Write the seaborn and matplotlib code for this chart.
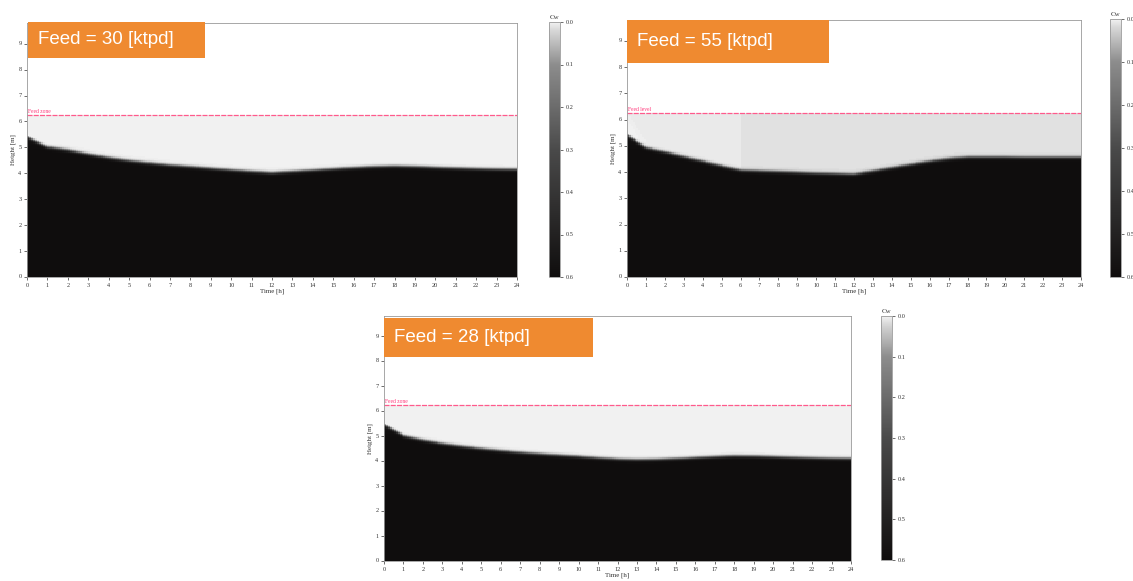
import numpy as np
import pandas as pd
import matplotlib
matplotlib.use("Agg")
import matplotlib.pyplot as plt
from matplotlib.colors import LinearSegmentedColormap
from matplotlib.patches import Rectangle
import seaborn as sns

# Hourly time axis
time_h = list(range(25))

# Sludge-bed interface height [m] read hourly for each feed rate
bed_feed30 = [5.40, 5.00, 4.88, 4.72, 4.58, 4.47, 4.38, 4.30, 4.24, 4.17, 4.11, 4.05, 4.00,
              4.05, 4.10, 4.15, 4.20, 4.24, 4.26, 4.24, 4.21, 4.18, 4.16, 4.14, 4.13]
bed_feed55 = [5.40, 4.92, 4.75, 4.57, 4.40, 4.22, 4.05, 4.02, 4.00, 3.97, 3.94, 3.92, 3.90,
              4.02, 4.15, 4.28, 4.40, 4.50, 4.56, 4.56, 4.56, 4.55, 4.55, 4.55, 4.55]
bed_feed28 = [5.45, 5.00, 4.82, 4.68, 4.57, 4.48, 4.40, 4.33, 4.27, 4.22, 4.17, 4.11, 4.06,
              4.04, 4.05, 4.08, 4.12, 4.16, 4.19, 4.18, 4.16, 4.13, 4.11, 4.09, 4.08]

# Clear-water solids concentration above the bed (hourly, held within each hour)
clear_feed30 = [0.0020] * 16 + [0.0012] * 9
clear_feed55 = [0.0058] * 6 + [0.0135] * 19
clear_feed28 = [0.0015] * 25

feed_titles = ["Feed = 30 [ktpd]", "Feed = 55 [ktpd]", "Feed = 28 [ktpd]"]
feed_zone_labels = ["Feed zone", "Feed level", "Feed zone"]
feed_level_m = 6.25
bed_conc = 0.6
height_ticks = list(range(10))
cbar_ticks = [0.0, 0.1, 0.2, 0.3, 0.4, 0.5, 0.6]

# Grid resolution for the concentration field
DT = 0.1
DH = 0.05
H_MAX = 9.8

sns.set_theme(style="white")
plt.rcParams["font.family"] = ["Liberation Serif", "DejaVu Serif"]

cmap = LinearSegmentedColormap.from_list(
    "cw",
    [(0.0, "#f1f1f1"), (0.03, "#d8d8d8"), (1 / 6, "#8c8c8c"), (0.5, "#4a4a4a"), (1.0, "#0f0d0d")],
)

W, H = 1133, 581
fig = plt.figure(figsize=(W / 100, H / 100), dpi=100)


def px_axes(x0, y0, x1, y1):
    return fig.add_axes([x0 / W, 1 - y1 / H, (x1 - x0) / W, (y1 - y0) / H])


def field(bed, clear):
    t = np.arange(0, 24, DT) + DT / 2
    h = np.arange(0, H_MAX, DH) + DH / 2
    b = np.interp(t, time_h, bed)
    c = np.asarray(clear)[np.floor(t).astype(int)]
    hh, tt = np.meshgrid(h, t, indexing="ij")
    bb = np.broadcast_to(b, hh.shape)
    cc = np.broadcast_to(c, hh.shape)
    frac = 0.5 * (1 - np.tanh((hh - bb) / 0.06))
    z = cc + (bed_conc - cc) * frac
    # lighter wedge at start-up near the top of the bed
    z = z - 0.04 * np.exp(-tt / 0.4) * np.exp(-np.abs(hh - bb) / 0.25)
    z = np.clip(z, 0, bed_conc)
    z[hh > feed_level_m] = np.nan
    return pd.DataFrame(z)


panels = [
    (bed_feed30, clear_feed30, (27, 23, 517, 277), (549, 22, 560, 277), (28, 22, 205, 58)),
    (bed_feed55, clear_feed55, (627, 20, 1081, 277), (1110, 19, 1121, 277), (627, 20, 829, 63)),
    (bed_feed28, clear_feed28, (384, 316, 851, 561), (881, 316, 892, 560), (384, 318, 593, 357)),
]

for i, (bed, clear, ax_px, cb_px, box_px) in enumerate(panels):
    ax = px_axes(*ax_px)
    cax = px_axes(*cb_px)
    df = field(bed, clear)
    sns.heatmap(df, ax=ax, cbar_ax=cax, cmap=cmap, vmin=0, vmax=bed_conc,
                linewidths=0, rasterized=True)
    ax.set_facecolor("white")
    nrows, ncols = df.shape
    ax.set_ylim(0, H_MAX / DH)
    ax.set_xlim(0, ncols)
    ax.set_xticks([t / DT for t in time_h])
    ax.set_xticklabels([str(t) for t in time_h], rotation=0)
    ax.set_yticks([v / DH for v in height_ticks])
    ax.set_yticklabels([str(v) for v in height_ticks], rotation=0)
    ax.tick_params(axis="both", length=2, width=0.5, labelsize=4.5, colors="#333333", pad=2,
                   bottom=True, left=True)
    for s in ax.spines.values():
        s.set_visible(True)
        s.set_linewidth(0.6)
        s.set_color("#999999")
    ax.set_xlabel("Time [h]", fontsize=5, color="#333333", labelpad=1)
    ax.set_ylabel("Height [m]", fontsize=5, color="#333333", labelpad=2)

    # feed level marker
    ax.axhline(feed_level_m / DH, color="#ff5a8c", lw=0.9, ls=(0, (4, 1)))
    ax.text(0.4, feed_level_m / DH + 0.6, feed_zone_labels[i], fontsize=4,
            color="#ff3377", va="bottom", ha="left")

    # colour bar: 0 at the top, bed concentration at the bottom
    cbar = ax.collections[0].colorbar
    cbar.set_ticks(cbar_ticks)
    cbar.set_ticklabels([f"{v:.1f}" for v in cbar_ticks])
    cax.invert_yaxis()
    cax.tick_params(labelsize=4.5, length=2, width=0.5, colors="#333333", pad=2)
    cbar.outline.set_visible(True)
    cbar.outline.set_linewidth(0.6)
    cbar.outline.set_edgecolor("#999999")
    cax.set_title("Cw", fontsize=5, color="#333333", pad=2)

    # orange feed-rate banner
    x0, y0, x1, y1 = box_px
    fig.patches.append(Rectangle((x0 / W, 1 - y1 / H), (x1 - x0) / W, (y1 - y0) / H,
                                 transform=fig.transFigure, facecolor="#ef8a30",
                                 edgecolor="none", zorder=5))
    fig.text((x0 + 10) / W, 1 - ((y0 + y1) / 2) / H, feed_titles[i], fontsize=13.5,
             color="white", va="center", ha="left", family=["Liberation Sans", "DejaVu Sans"],
             zorder=6)

fig.savefig("out.png", dpi=100, facecolor="white")
